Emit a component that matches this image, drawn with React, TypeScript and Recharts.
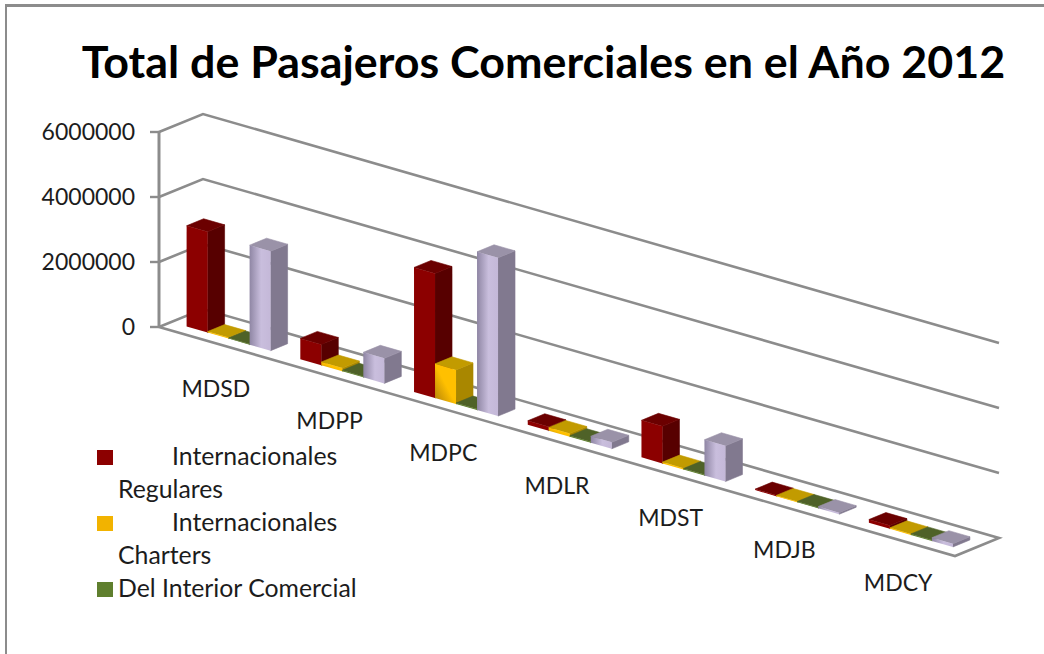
import React from "react";
import { BarChart, Bar, XAxis, YAxis, CartesianGrid, Legend } from "recharts";

const categories = ["MDSD", "MDPP", "MDPC", "MDLR", "MDST", "MDJB", "MDCY"];
const internacionalesRegulares = [3100000, 640000, 3830000, 120000, 1140000, 30000, 100000];
const internacionalesCharters = [30000, 100000, 1050000, 100000, 40000, 20000, 30000];
const delInteriorComercial = [20000, 30000, 30000, 30000, 30000, 20000, 30000];
const delInteriorCharters = [3060000, 770000, 4870000, 200000, 1100000, 50000, 100000];
const yTicks = [0, 2000000, 4000000, 6000000];
const legendNames = ["Internacionales Regulares", "Internacionales Charters", "Del Interior Comercial"];

const rows = categories.map((name, i) => ({
  name,
  regulares: internacionalesRegulares[i],
  charters: internacionalesCharters[i],
  interior: delInteriorComercial[i],
  interiorCharters: delInteriorCharters[i],
}));

const FONT = "Lato, sans-serif";
const GRID = "#8c8c8c";
const TEXT = "#1c1c1c";
const PLOT_LEFT = 159;
const SLOPE = 0.2877;
const LABEL_SLOPE = 0.2845;
const BACK_DX = 44;
const BACK_DY = -18;
const BAR_DX = 17;
const BAR_DY = -7;
const ROW_DX = 12.1;
const ROW_DY = -4.95;

type Faces = { front: string; side: string; top: string };

const pts = (list: number[][]) => list.map((p) => p.join(",")).join(" ");

const bar3D = (faces: Faces) => (p: any) => {
  const { x, y, width: w, height: h } = p;
  const sx = x + ROW_DX;
  const sy = y + SLOPE * (x - PLOT_LEFT) + ROW_DY;
  const r = sy + SLOPE * w;
  return (
    <g>
      <polygon
        fill={faces.side}
        stroke={faces.side}
        strokeWidth={0.6}
        points={pts([
          [sx + w, r],
          [sx + w + BAR_DX, r + BAR_DY],
          [sx + w + BAR_DX, r + BAR_DY + h],
          [sx + w, r + h],
        ])}
      />
      <polygon
        fill={faces.top}
        stroke={faces.top}
        strokeWidth={0.6}
        points={pts([
          [sx, sy],
          [sx + w, r],
          [sx + w + BAR_DX, r + BAR_DY],
          [sx + BAR_DX, sy + BAR_DY],
        ])}
      />
      <polygon
        fill={faces.front}
        points={pts([
          [sx, sy],
          [sx + w, r],
          [sx + w, r + h],
          [sx, sy + h],
        ])}
      />
    </g>
  );
};

const gridLine = (p: any) => {
  const { x1, x2, y1 } = p;
  const endY = y1 + SLOPE * (x2 - x1);
  const isFloor = y1 > 320;
  const list = isFloor
    ? [
        [x1, y1],
        [x1 + BACK_DX, y1 + BACK_DY],
        [x2 + BACK_DX, endY + BACK_DY],
        [x2, endY],
        [x1, y1],
      ]
    : [
        [x1, y1],
        [x1 + BACK_DX, y1 + BACK_DY],
        [x2 + BACK_DX, endY + BACK_DY],
      ];
  return <polyline key={y1} points={pts(list)} fill="none" stroke={GRID} strokeWidth={2.6} />;
};

const XTick = (p: any) => {
  const { x, payload } = p;
  return (
    <text
      x={x}
      y={387.5 + LABEL_SLOPE * (x - 215.85)}
      textAnchor="middle"
      dominantBaseline="central"
      fontFamily={FONT}
      fontSize={23}
      fill={TEXT}
    >
      {payload.value}
    </text>
  );
};

const legendContent = (p: any) => (
  <div
    style={{
      position: "absolute",
      left: 0,
      top: 0,
      boxSizing: "border-box",
      width: 268,
      paddingLeft: 21,
      textIndent: -21,
      fontFamily: FONT,
      fontSize: 24.8,
      lineHeight: "33px",
      color: TEXT,
      textAlign: "left",
    }}
  >
    {(p.payload || [])
      .filter((e: any) => legendNames.includes(e.value))
      .sort((a: any, b: any) => legendNames.indexOf(a.value) - legendNames.indexOf(b.value))
      .map((e: any) => {
        const wraps = String(e.value).startsWith("Internacionales");
        return (
          <div key={e.value}>
            <span
              style={{
                display: "inline-block",
                width: 16,
                height: 15,
                background: e.color,
                marginRight: wraps ? 59 : 5,
                verticalAlign: 0,
              }}
            />
            <span>{e.value}</span>
          </div>
        );
      })}
  </div>
);

const redFaces = { front: "#8c0000", side: "#570000", top: "#6b0000" };
const yellowFaces = { front: "url(#yellowFront)", side: "#a98700", top: "#c29b00" };
const greenFaces = { front: "#5f7f2e", side: "#46601f", top: "#4f6228" };
const lilacFaces = { front: "url(#lilacFront)", side: "#81798f", top: "#9a92a8" };

export default function App() {
  return (
    <div style={{ position: "absolute", left: 0, top: 0, width: 1044, height: 654, background: "#fff", overflow: "hidden" }}>
      <div
        style={{
          position: "absolute",
          left: 5,
          top: 4,
          width: 1039,
          height: 650,
          borderTop: `3px solid ${GRID}`,
          borderLeft: `2.5px solid ${GRID}`,
          boxSizing: "border-box",
        }}
      />
      <div
        style={{
          position: "absolute",
          left: 0,
          top: 33,
          width: 1087,
          textAlign: "center",
          fontFamily: FONT,
          fontWeight: 700,
          fontSize: 44.8,
          lineHeight: "56px",
          color: "#000",
          whiteSpace: "nowrap",
        }}
      >
        Total de Pasajeros Comerciales en el Año 2012
      </div>
      <BarChart
        width={1044}
        height={654}
        data={rows}
        barCategoryGap={15.5}
        barGap={0}
        margin={{ top: 132, left: 59, right: 89, bottom: 297 }}
        style={{ position: "absolute", left: 0, top: 0 }}
      >
        <defs>
          <linearGradient id="yellowFront" x1="0" y1="1" x2="1" y2="0">
            <stop offset="0" stopColor="#b07f08" />
            <stop offset="0.5" stopColor="#ffc000" />
            <stop offset="1" stopColor="#ffc000" />
          </linearGradient>
          <linearGradient id="lilacFront" x1="0" y1="0" x2="1" y2="0">
            <stop offset="0" stopColor="#8f86a4" />
            <stop offset="0.55" stopColor="#c9bedd" />
            <stop offset="1" stopColor="#c4b8d8" />
          </linearGradient>
        </defs>
        <CartesianGrid vertical={false} horizontal={gridLine} />
        <XAxis dataKey="name" axisLine={false} tickLine={false} interval={0} height={30} tick={XTick} />
        <YAxis
          domain={[0, 6000000]}
          ticks={yTicks}
          width={100}
          tickSize={9}
          tickMargin={15}
          axisLine={{ stroke: GRID, strokeWidth: 3 }}
          tickLine={{ stroke: GRID, strokeWidth: 2.4 }}
          tick={{ fontFamily: FONT, fontSize: 23, fill: TEXT }}
        />
        <Legend
          content={legendContent}
          wrapperStyle={{ position: "absolute", left: 97, top: 438.5, width: 268, height: 0, bottom: "auto" }}
        />
        <Bar dataKey="regulares" name="Internacionales Regulares" fill="#8c0000" isAnimationActive={false} shape={bar3D(redFaces)} />
        <Bar dataKey="charters" name="Internacionales Charters" fill="#f2b300" isAnimationActive={false} shape={bar3D(yellowFaces)} />
        <Bar dataKey="interior" name="Del Interior Comercial" fill="#5f7f2e" isAnimationActive={false} shape={bar3D(greenFaces)} />
        <Bar dataKey="interiorCharters" name="Del Interior Charters" fill="#b5abc9" legendType="none" isAnimationActive={false} shape={bar3D(lilacFaces)} />
      </BarChart>
    </div>
  );
}
